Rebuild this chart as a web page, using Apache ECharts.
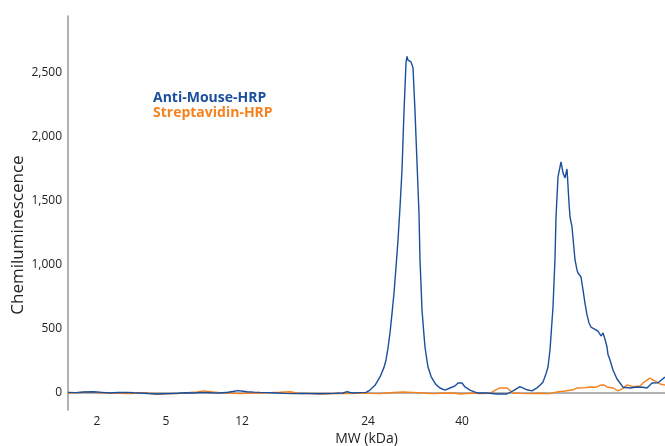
<!DOCTYPE html>
<html>
<head>
<meta charset="utf-8">
<script src="https://cdn.jsdelivr.net/npm/echarts@6/dist/echarts.min.js"></script>
<style>
  html, body { margin: 0; padding: 0; background: #fff; }
  #chart { width: 665px; height: 446px; }
</style>
</head>
<body>
<div id="chart"></div>
<script>
// lane position (distance along the x axis) and signal for each trace
const blueX = [0, 8, 16, 25, 34, 42, 50, 59, 66, 72, 80, 89, 96, 102, 110, 118, 125, 135, 144, 152, 160, 165, 170, 175, 179, 186, 192, 200, 209, 217, 225, 234, 242, 250, 259, 267, 275, 279, 282, 285, 292, 298, 302, 307, 312, 316, 318, 320, 322, 324, 326, 328, 330, 332, 334, 336, 338, 339, 340, 341, 343, 345, 347, 349, 351, 352, 353, 354, 356, 357, 359, 360, 363, 365, 368, 372, 377, 382, 387, 390, 394, 397, 402, 409, 419, 429, 439, 445, 452, 459, 464, 469, 472, 475, 478, 480, 482, 485, 487, 488, 490, 493, 495, 497, 499, 501, 502, 504, 507, 509, 510, 513, 515, 517, 519, 521, 523, 525, 530, 533, 535, 537, 539, 540, 542, 545, 549, 552, 555, 557, 562, 569, 575, 579, 584, 590, 597];
const blueY = [5, 3, 8, 10, 5, 0, 4, 5, 2, 0, -4, -8, -6, -5, -2, 2, 0, 5, 2, 0, 6, 12, 18, 14, 10, 7, 5, 3, 0, -3, -5, -4, -5, -6, -5, -3, 0, 10, 4, 0, 3, 5, 23, 60, 125, 200, 258, 350, 469, 620, 781, 980, 1195, 1450, 1742, 2200, 2580, 2630, 2600, 2594, 2586, 2540, 2200, 1800, 1400, 1039, 850, 648, 450, 359, 250, 203, 130, 102, 65, 39, 23, 39, 55, 78, 78, 47, 23, 0, 0, -8, -8, 16, 50, 25, 16, 40, 60, 86, 150, 203, 336, 672, 1050, 1375, 1688, 1805, 1720, 1680, 1750, 1484, 1375, 1297, 1039, 961, 937, 906, 805, 700, 610, 547, 515, 500, 484, 445, 469, 420, 359, 300, 258, 180, 109, 78, 45, 39, 39, 47, 45, 39, 78, 80, 125];

const orangeX = [0, 8, 16, 25, 35, 42, 50, 59, 68, 79, 89, 97, 109, 119, 129, 135, 140, 145, 152, 159, 172, 182, 192, 202, 212, 222, 232, 242, 255, 267, 279, 292, 302, 312, 322, 335, 345, 355, 365, 375, 385, 392, 399, 405, 412, 422, 427, 432, 439, 442, 445, 452, 462, 472, 482, 489, 497, 505, 509, 516, 522, 528, 532, 534, 536, 539, 545, 550, 555, 559, 565, 572, 575, 579, 582, 585, 589, 592, 597];
const orangeY = [0, 3, 6, 8, 0, 3, -2, -5, -2, 0, -10, -6, -5, 2, 8, 16, 12, 8, 3, 0, -5, -2, 0, 3, 6, 10, -5, -4, -8, -4, -5, 0, -3, -5, 2, 8, 5, 0, -5, -2, 0, -8, -4, 0, -5, -3, 20, 39, 39, 20, 0, -3, -5, -2, -5, 8, 15, 25, 39, 40, 47, 45, 60, 75, 62, 47, 39, 16, 35, 62, 50, 55, 78, 100, 117, 100, 86, 70, 62];

// MW marker positions along the lane and their labels
const mwPos = [29, 98, 174, 300, 394];
const mwLabels = ['2', '5', '12', '24', '40'];
const yTicks = [0, 500, 1000, 1500, 2000, 2500];

const blue = '#1b4f9c';
const orange = '#f5821f';
const font = 'Open Sans';

const chart = echarts.init(document.getElementById('chart'));
chart.setOption({
  animation: false,
  textStyle: { fontFamily: font },
  grid: { left: 68, right: 0, top: 16, bottom: 36, containLabel: false, outerBoundsMode: 'none' },
  // y axis title, placed a little below the axis middle like the original
  graphic: [{
    type: 'text',
    x: 18,
    y: 235,
    rotation: Math.PI / 2,
    style: {
      text: 'Chemiluminescence',
      fill: '#222',
      font: '17px "Open Sans"',
      align: 'center',
      verticalAlign: 'middle'
    }
  }],
  legend: {
    orient: 'vertical',
    left: 143,
    top: 86,
    itemGap: 1,
    itemWidth: 0,
    itemHeight: 0,
    selectedMode: false,
    data: [
      { name: 'Anti-Mouse-HRP', icon: 'none', textStyle: { color: blue } },
      { name: 'Streptavidin-HRP', icon: 'none', textStyle: { color: orange } }
    ],
    textStyle: { fontFamily: font, fontWeight: 'bold', fontSize: 14, padding: 0 }
  },
  xAxis: {
    type: 'value',
    min: 0,
    max: 597,
    name: 'MW (kDa)',
    nameLocation: 'middle',
    nameGap: 22,
    nameMoveOverlap: false,
    nameTextStyle: { fontSize: 14, color: '#222', fontFamily: font },
    axisLine: { lineStyle: { color: '#999', width: 1.5 } },
    axisTick: { show: false },
    splitLine: { show: false },
    axisLabel: {
      customValues: mwPos,
      color: '#222',
      fontSize: 12,
      margin: 6,
      formatter: function (v) { return mwLabels[mwPos.indexOf(v)]; }
    }
  },
  yAxis: {
    type: 'value',
    min: -133,
    max: 2945,
    axisLine: { show: true, lineStyle: { color: '#999', width: 1.5 } },
    axisTick: { show: false },
    splitLine: { show: false },
    axisLabel: {
      customValues: yTicks,
      color: '#222',
      fontSize: 12,
      margin: 6,
      formatter: function (v) { return v.toLocaleString('en-US'); }
    }
  },
  series: [
    {
      name: 'Streptavidin-HRP',
      type: 'line',
      data: orangeX.map((x, i) => [x, orangeY[i]]),
      showSymbol: false,
      lineStyle: { color: orange, width: 1.4 },
      itemStyle: { color: orange }
    },
    {
      name: 'Anti-Mouse-HRP',
      type: 'line',
      data: blueX.map((x, i) => [x, blueY[i]]),
      showSymbol: false,
      lineStyle: { color: blue, width: 1.4 },
      itemStyle: { color: blue }
    }
  ]
});
window.addEventListener('resize', function () { chart.resize(); });
</script>
</body>
</html>
